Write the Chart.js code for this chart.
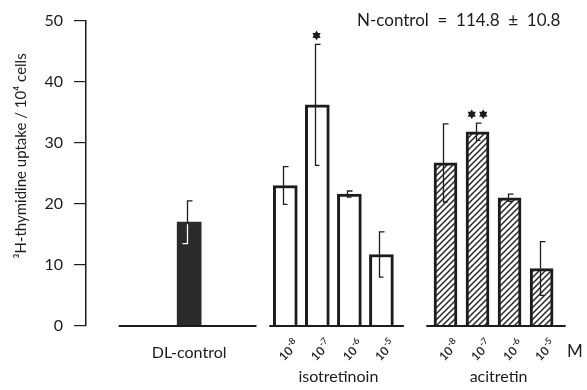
<!DOCTYPE html>
<html>
<head>
<meta charset="utf-8">
<script src="https://cdn.jsdelivr.net/npm/chart.js@4/dist/chart.umd.min.js"></script>
<style>
  html, body { margin: 0; padding: 0; background: #fff; }
  #wrap { width: 587px; height: 390px; position: relative; }
</style>
</head>
<body>
<div id="wrap"><canvas id="c" width="587" height="390"></canvas></div>
<script>
// ---- data ----
const groupNames = ['DL-control', 'isotretinoin', 'acitretin'];
const doseBase = '10';
const doseExponents = ['-8', '-7', '-6', '-5'];
const dlValues = [17.0];
const dlSD = [3.5];
const isoValues = [23.0, 36.2, 21.6, 11.7];
const isoSD = [3.1, 9.9, 0.5, 3.7];
const aciValues = [26.7, 31.8, 21.0, 9.4];
const aciSD = [6.4, 1.4, 0.6, 4.4];
const isoSignif = ['', '*', '', ''];
const aciSignif = ['', '**', '', ''];
const yTicks = [0, 10, 20, 30, 40, 50];
const yTitle = '³H-thymidine uptake / 10⁴ cells';
const noteText = 'N-control  =  114.8  ±  10.8';
const unitText = 'M';
// slot order: DL-control, 2 empty slots, 4 isotretinoin doses, 1 empty, 4 acitretin doses
const groupStartSlot = [0, 3, 8];

const FONT = 'Lato, "Open Sans", sans-serif';
const INK = '#1c1c1c';

const canvas = document.getElementById('c');
const ctx0 = canvas.getContext('2d');

function makeHatch() {
  const s = 6;
  const t = document.createElement('canvas');
  t.width = s; t.height = s;
  const g = t.getContext('2d');
  g.fillStyle = '#fff'; g.fillRect(0, 0, s, s);
  g.strokeStyle = '#262626'; g.lineWidth = 1.5;
  g.beginPath();
  g.moveTo(-1, s + 1); g.lineTo(s + 1, -1);
  g.moveTo(-s / 2 - 1, s / 2 + 1); g.lineTo(s / 2 + 1, -s / 2 - 1);
  g.moveTo(s / 2 - 1, s * 1.5 + 1); g.lineTo(s * 1.5 + 1, s / 2 - 1);
  g.stroke();
  return ctx0.createPattern(t, 'repeat');
}
const hatch = makeHatch();

const toPts = (vals, start) => vals.map((v, i) => ({ x: start + i, y: v }));

const groups = [
  { values: dlValues, sd: dlSD, signif: [''], start: groupStartSlot[0] },
  { values: isoValues, sd: isoSD, signif: isoSignif, start: groupStartSlot[1] },
  { values: aciValues, sd: aciSD, signif: aciSignif, start: groupStartSlot[2] }
];

function drawStar(ctx, cx, cy, r) {
  ctx.beginPath();
  const n = 6;
  for (let k = 0; k < n * 2; k++) {
    const a = -Math.PI / 2 + k * Math.PI / n;
    const rr = k % 2 === 0 ? r : r * 0.6;
    const px = cx + rr * Math.cos(a), py = cy + rr * Math.sin(a);
    if (k === 0) ctx.moveTo(px, py); else ctx.lineTo(px, py);
  }
  ctx.closePath();
  ctx.fill();
}

const overlay = {
  id: 'overlay',
  afterDatasetsDraw(chart) {
    const ctx = chart.ctx;
    const xs = chart.scales.x, ys = chart.scales.y;
    const y0 = ys.getPixelForValue(0);
    ctx.save();

    // baselines per group
    ctx.strokeStyle = INK; ctx.lineWidth = 2;
    const ext = [[-2.2, 2.1], [-0.5, 0.7], [-0.6, 0.75]];
    groups.forEach((g, gi) => {
      const a = xs.getPixelForValue(g.start + ext[gi][0]);
      const b = xs.getPixelForValue(g.start + g.values.length - 1 + ext[gi][1]);
      ctx.beginPath(); ctx.moveTo(a, y0); ctx.lineTo(b, y0); ctx.stroke();
    });

    // error bars
    groups.forEach((g, gi) => {
      const meta = chart.getDatasetMeta(gi);
      meta.data.forEach((el, i) => {
        const v = g.values[i], s = g.sd[i];
        const x = Math.round(el.x) - 1.5;
        const yt = ys.getPixelForValue(v + s);
        const yb = ys.getPixelForValue(v - s);
        const ybar = ys.getPixelForValue(v);
        ctx.lineWidth = 1.3;
        ctx.strokeStyle = INK;
        ctx.beginPath();
        ctx.moveTo(x + 5, yt); ctx.lineTo(x, yt); ctx.lineTo(x, Math.min(ybar, yb));
        ctx.stroke();
        ctx.strokeStyle = gi === 0 ? '#ffffff' : INK;
        ctx.beginPath();
        ctx.moveTo(x, ybar + (gi === 0 ? 2 : 0)); ctx.lineTo(x, yb);
        if (gi === 0) ctx.lineTo(x - 5, yb); else ctx.lineTo(x + 4, yb);
        ctx.stroke();

        // significance stars
        const sig = g.signif[i];
        if (sig) {
          ctx.fillStyle = INK;
          const stars = sig.length;
          for (let k = 0; k < stars; k++) {
            const sx = x + 1 + (k - (stars - 1) / 2) * 11.5;
            drawStar(ctx, sx, yt - 9, 4.8);
          }
        }
      });
    });

    // x labels
    ctx.fillStyle = INK;
    ctx.textAlign = 'center'; ctx.textBaseline = 'middle';
    ctx.font = '16px ' + FONT;
    ctx.fillText(groupNames[0], xs.getPixelForValue(groups[0].start), 353);
    [1, 2].forEach(gi => {
      const g = groups[gi];
      doseExponents.forEach((ex, i) => {
        const px = xs.getPixelForValue(g.start + i) + 3;
        ctx.save();
        ctx.translate(px, 350);
        ctx.rotate(-0.8);
        ctx.textBaseline = 'alphabetic';
        ctx.font = '600 12px ' + FONT;
        const w1 = ctx.measureText(doseBase).width;
        ctx.font = '600 9px ' + FONT;
        const w2 = ctx.measureText(ex).width;
        const left = -(w1 + w2) / 2;
        ctx.textAlign = 'left';
        ctx.font = '600 12px ' + FONT;
        ctx.fillText(doseBase, left, 5);
        ctx.font = '600 9px ' + FONT;
        ctx.fillText(ex, left + w1 + 0.5, -0.5);
        ctx.restore();
      });
      const mid = xs.getPixelForValue(g.start + (g.values.length - 1) / 2);
      ctx.font = '16px ' + FONT;
      ctx.fillText(groupNames[gi], mid + 5, 377);
    });
    ctx.font = '17px ' + FONT;
    ctx.fillText(unitText, 575, 352);

    // note
    ctx.textAlign = 'left';
    ctx.font = '17px ' + FONT;
    ctx.fillText(noteText, 357, 21);

    // y title
    ctx.save();
    ctx.translate(21, 156);
    ctx.rotate(-Math.PI / 2);
    ctx.textAlign = 'center';
    ctx.font = '15px ' + FONT;
    ctx.fillText(yTitle, 0, 0);
    ctx.restore();

    ctx.restore();
  }
};

new Chart(canvas, {
  type: 'bar',
  data: {
    datasets: [
      { data: toPts(dlValues, groupStartSlot[0]), backgroundColor: '#2b2b2b', borderColor: '#2b2b2b', borderWidth: 0, barThickness: 24, grouped: false },
      { data: toPts(isoValues, groupStartSlot[1]), backgroundColor: '#ffffff', borderColor: INK, borderWidth: 3, barThickness: 24, grouped: false, borderSkipped: 'bottom' },
      { data: toPts(aciValues, groupStartSlot[2]), backgroundColor: hatch, borderColor: INK, borderWidth: 3, barThickness: 23, grouped: false, borderSkipped: 'bottom' }
    ]
  },
  options: {
    responsive: false,
    animation: false,
    events: [],
    layout: { padding: { top: 16, bottom: 64, right: 22, left: 0 } },
    plugins: { legend: { display: false }, tooltip: { enabled: false } },
    scales: {
      x: { type: 'linear', display: false, offset: false, min: -3.22, max: 11.73 },
      y: {
        min: 0, max: 50,
        afterBuildTicks: s => { s.ticks = yTicks.map(v => ({ value: v })); },
        afterFit: s => { s.width = 86; },
        grid: { display: true, drawOnChartArea: false, drawTicks: true, tickLength: 12, color: INK, lineWidth: 1.2 },
        border: { display: true, color: INK, width: 1.5 },
        ticks: { color: INK, font: { family: FONT, size: 16 }, padding: 11 }
      }
    }
  },
  plugins: [overlay]
});
</script>
</body>
</html>
